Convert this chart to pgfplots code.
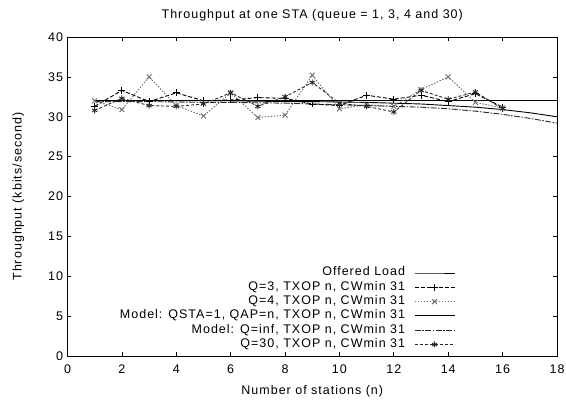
\documentclass[border=0pt]{standalone}
\usepackage{fontspec}
\setmainfont{Liberation Sans}[LetterSpace=8]
\usepackage{pgfplots}
\pgfplotsset{compat=1.18}
\definecolor{lgray}{RGB}{110,110,110}
\definecolor{dgray}{RGB}{40,40,40}
\begin{document}
\begin{tikzpicture}[font=\fontsize{12.5bp}{14bp}\selectfont]
\begin{axis}[
  name=ax,
  scale only axis,
  width=489.5bp, height=319bp,
  xmin=0, xmax=18, ymin=0, ymax=40,
  xtick={0,2,...,18}, ytick={0,5,...,40},
  tick align=inside,
  major tick length=4bp,
  tick style={black, line width=0.7bp},
  axis line style={line width=0.7bp},
  /pgf/number format/assume math mode=true,
  xticklabel style={yshift=-5bp},
  yticklabel style={xshift=-1bp},
  title={Throughput at one STA (queue = 1, 3, 4 and 30)},
  title style={at={(axis description cs:0.5,1)}, anchor=base, yshift=13bp},
  xlabel={Number of stations (n)},
  xlabel style={at={(axis description cs:0.5,0)}, anchor=base, yshift=-38.5bp},
  ylabel={Throughput (kbits/second)},
  ylabel style={at={(axis description cs:-0.0935,0.5)}, anchor=base},
  legend cell align=right,
  legend plot pos=right,
  legend style={draw=none, fill=none, at={(0.792,0.013)}, anchor=south east,
    inner sep=0pt, column sep=9bp, row sep=0pt,
    nodes={inner ysep=0pt, inner xsep=0pt, text height=10bp, text depth=4.3bp}},
  legend image code/.code={\draw[mark repeat=2,mark phase=2,#1] plot coordinates {(0bp,0bp) (20bp,0bp) (40bp,0bp)};},
  every axis plot/.append style={line width=0.9bp},
]
\addplot[black, solid, mark=none] coordinates {(1,32) (18,32)};
\addlegendentry{Offered Load}
\addplot[black, dash pattern=on 4bp off 2bp, mark=+, mark size=3.5bp, mark options={solid}] coordinates {
(1,31.3) (2,33.3) (3,31.9) (4,33.0) (5,32.0) (6,32.1) (7,32.4) (8,32.3) (9,31.6) (10,31.4) (11,32.7) (12,32.2) (13,32.7) (14,31.9) (15,32.9) (16,31.2)};
\addlegendentry{Q=3, TXOP n, CWmin 31}
\addplot[lgray, dash pattern=on 1.5bp off 1.5bp, mark=x, mark size=3.5bp, mark options={solid}] coordinates {
(1,32.0) (2,30.9) (3,35.0) (4,31.4) (5,30.1) (6,33.0) (7,29.9) (8,30.2) (9,35.2) (10,31.0) (11,31.5) (12,31.3) (13,33.4) (14,35.0) (15,31.8) (16,31.1)};
\addlegendentry{Q=4, TXOP n, CWmin 31}
\addplot[black, solid, mark=none] coordinates {
(1,32.0) (2,32.0) (3,32.0) (4,32.0) (5,32.0) (6,32.0) (7,31.95) (8,31.9) (9,31.9) (10,31.85) (11,31.8) (12,31.7) (13,31.6) (14,31.4) (15,31.2) (16,30.9) (17,30.5) (18,30.0)};
\addlegendentry{Model: QSTA=1, QAP=n, TXOP n, CWmin 31}
\addplot[dgray, dash pattern=on 6bp off 1.5bp on 1.5bp off 1.5bp, mark=none] coordinates {
(1,31.9) (2,31.9) (3,31.9) (4,31.85) (5,31.8) (6,31.8) (7,31.75) (8,31.7) (9,31.6) (10,31.5) (11,31.4) (12,31.3) (13,31.2) (14,31.0) (15,30.7) (16,30.3) (17,29.8) (18,29.2)};
\addlegendentry{Model: Q=inf, TXOP n, CWmin 31}
\addplot[dgray, dash pattern=on 3bp off 2bp, mark=asterisk, mark size=3bp, mark options={solid}] coordinates {
(1,30.8) (2,32.3) (3,31.4) (4,31.3) (5,31.6) (6,33.0) (7,31.3) (8,32.5) (9,34.3) (10,31.7) (11,31.3) (12,30.6) (13,33.3) (14,32.2) (15,33.1) (16,31.0)};
\addlegendentry{Q=30, TXOP n, CWmin 31}
\end{axis}
\pgfresetboundingbox
\useasboundingbox ([shift={(-67.5bp,-48bp)}]ax.south west) rectangle ([shift={(9bp,37bp)}]ax.north east);
\end{tikzpicture}
\end{document}
